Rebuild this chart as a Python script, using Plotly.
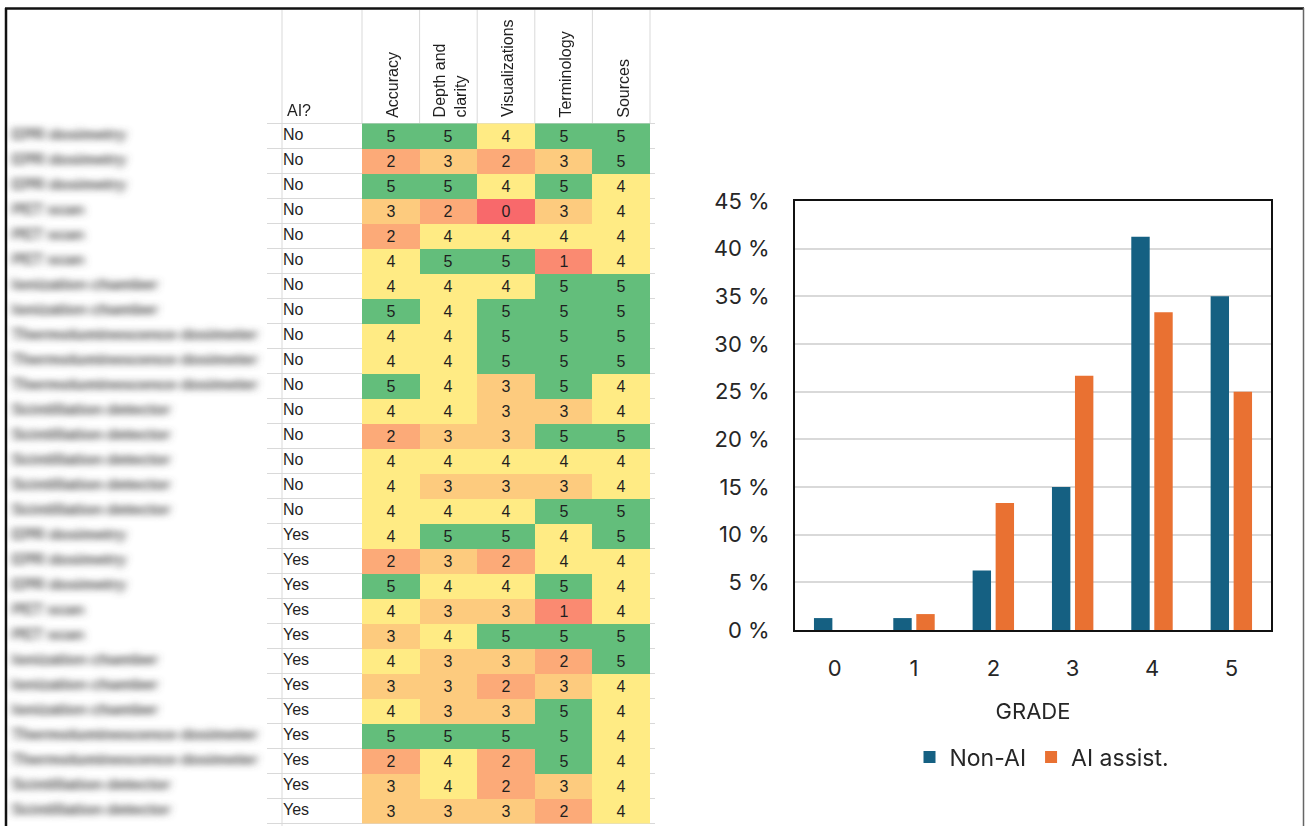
import plotly.graph_objects as go

# ---------------- grading table ----------------
topics = (
    ["EPR dosimetry"] * 3
    + ["PET scan"] * 3
    + ["Ionization chamber"] * 2
    + ["Thermoluminescence dosimeter"] * 3
    + ["Scintillation detector"] * 5
    + ["EPR dosimetry"] * 3
    + ["PET scan"] * 2
    + ["Ionization chamber"] * 3
    + ["Thermoluminescence dosimeter"] * 2
    + ["Scintillation detector"] * 2
)
ai_used = ["No"] * 16 + ["Yes"] * 12

criteria = ["Accuracy", "Depth and<br>clarity", "Visualizations", "Terminology", "Sources"]

accuracy = [5, 2, 5, 3, 2, 4, 4, 5, 4, 4, 5, 4, 2, 4, 4, 4,
            4, 2, 5, 4, 3, 4, 3, 4, 5, 2, 3, 3]
depth = [5, 3, 5, 2, 4, 5, 4, 4, 4, 4, 4, 4, 3, 4, 3, 4,
         5, 3, 4, 3, 4, 3, 3, 3, 5, 4, 4, 3]
visualizations = [4, 2, 4, 0, 4, 5, 4, 5, 5, 5, 3, 3, 3, 4, 3, 4,
                  5, 2, 4, 3, 5, 3, 2, 3, 5, 2, 2, 3]
terminology = [5, 3, 5, 3, 4, 1, 5, 5, 5, 5, 5, 3, 5, 4, 3, 5,
               4, 4, 5, 1, 5, 2, 3, 5, 5, 5, 3, 2]
sources = [5, 5, 4, 4, 4, 4, 5, 5, 5, 5, 4, 4, 5, 4, 4, 5,
           5, 4, 4, 4, 5, 5, 4, 4, 4, 4, 4, 4]

# ---------------- grade distribution ----------------
grades = [0, 1, 2, 3, 4, 5]
non_ai_pct = [1.25, 1.25, 6.25, 15.0, 41.25, 35.0]
ai_pct = [0.0, 1.67, 13.33, 26.67, 33.33, 25.0]

# ---------------- page geometry (pixels) ----------------
W, H = 1305, 826
ROW_H = 25.0
TABLE_TOP = 123.5
HEADER_TOP = 10.0
LINE_LEFT = 267.0
AI_COL_X = 282.0
SCORE_X0 = 362.0
SCORE_W = 57.6
SCORE_RIGHT_STUB = 655.0

n_rows = len(ai_used)
rows = list(range(n_rows))
y_top = -0.5 - TABLE_TOP / ROW_H
y_bottom = y_top + H / ROW_H
y_header_top = y_top + HEADER_TOP / ROW_H

score_cols = [accuracy, depth, visualizations, terminology, sources]
z = [[col[r] for col in score_cols] for r in rows]
x_edges = [SCORE_X0 + i * SCORE_W for i in range(len(score_cols) + 1)]
col_centers = [(x_edges[i] + x_edges[i + 1]) / 2 for i in range(len(score_cols))]

TABLE_FONT = "Liberation Sans, Arial, sans-serif"
CHART_FONT = "Inter, Lato, sans-serif"
BLUE = "#156082"
ORANGE = "#E97132"

fig = go.Figure()

# Conditional-format style colour scale: red (0) -> yellow (4) -> green (5)
fig.add_trace(go.Heatmap(
    x=x_edges, y=rows, z=z,
    zmin=0, zmax=5,
    colorscale=[[0.0, "#F8696B"], [0.8, "#FFEB84"], [1.0, "#63BE7B"]],
    showscale=False,
    texttemplate="%{z}",
    textfont=dict(family=TABLE_FONT, size=16, color="#1f1f1f"),
    hoverinfo="skip",
    xaxis="x2", yaxis="y2",
))

# Topic labels (softened later in the page script)
fig.add_trace(go.Scatter(
    x=[12] * n_rows, y=rows, mode="text", text=topics,
    textposition="middle right",
    textfont=dict(family=TABLE_FONT, size=16, color="#555555", weight="bold"),
    hoverinfo="skip", showlegend=False,
    xaxis="x2", yaxis="y2",
))

# AI? column
fig.add_trace(go.Scatter(
    x=[AI_COL_X + 1] * n_rows, y=rows, mode="text", text=ai_used,
    textposition="middle right",
    textfont=dict(family=TABLE_FONT, size=16, color="#1f1f1f"),
    hoverinfo="skip", showlegend=False,
    xaxis="x2", yaxis="y2",
))

# Grade distribution bars
fig.add_trace(go.Bar(
    x=grades, y=non_ai_pct, name="Non-AI",
    marker=dict(color=BLUE, line=dict(width=0)),
    hoverinfo="skip",
))
fig.add_trace(go.Bar(
    x=grades, y=ai_pct, name="AI assist.",
    marker=dict(color=ORANGE, line=dict(width=0)),
    hoverinfo="skip",
))

shapes = []
grid = dict(color="#D9D9D9", width=1)
# row separators
for r in range(n_rows + 1):
    shapes.append(dict(type="line", xref="x2", yref="y2",
                       x0=LINE_LEFT, x1=SCORE_RIGHT_STUB, y0=r - 0.5, y1=r - 0.5,
                       line=grid, layer="below"))
# left edge of the AI? column, full height
shapes.append(dict(type="line", xref="x2", yref="y2",
                   x0=AI_COL_X, x1=AI_COL_X, y0=y_header_top, y1=y_bottom,
                   line=grid, layer="below"))
# header column separators
for xe in x_edges:
    shapes.append(dict(type="line", xref="x2", yref="y2",
                       x0=xe, x1=xe, y0=y_header_top, y1=-0.5,
                       line=grid, layer="below"))

# outer frame
frame = dict(color="#111111", width=2.5)
shapes.append(dict(type="line", xref="paper", yref="paper",
                   x0=5 / W, x1=1304 / W, y0=1 - 8.5 / H, y1=1 - 8.5 / H,
                   line=frame, layer="above"))
shapes.append(dict(type="line", xref="paper", yref="paper",
                   x0=6 / W, x1=6 / W, y0=0, y1=1 - 8 / H,
                   line=frame, layer="above"))
shapes.append(dict(type="line", xref="paper", yref="paper",
                   x0=1303.5 / W, x1=1303.5 / W, y0=0, y1=1 - 8 / H,
                   line=dict(color="#666666", width=1.5), layer="above"))

annotations = [dict(
    text="AI?", x=AI_COL_X + 3, y=-0.5, xref="x2", yref="y2",
    xanchor="left", yanchor="bottom", yshift=3, showarrow=False,
    font=dict(family=TABLE_FONT, size=16, color="#1f1f1f"),
)]
for cx, name in zip(col_centers, criteria):
    annotations.append(dict(
        text=name, x=cx + 1.5, y=-0.5, xref="x2", yref="y2",
        xanchor="center", yanchor="bottom", yshift=4, textangle=-90,
        align="left", showarrow=False,
        font=dict(family=TABLE_FONT, size=16, color="#1f1f1f"),
    ))

fig.update_layout(
    width=W, height=H,
    margin=dict(l=0, r=0, t=0, b=0, pad=0, autoexpand=False),
    paper_bgcolor="white", plot_bgcolor="rgba(0,0,0,0)",
    font=dict(family=CHART_FONT, color="#262626"),
    barmode="group", bargap=0.42, bargroupgap=0.2,
    showlegend=True,
    legend=dict(
        orientation="h", x=1042 / W, xanchor="center",
        y=1 - 757 / H, yanchor="middle",
        font=dict(family=CHART_FONT, size=23, color="#262626"),
        bgcolor="rgba(0,0,0,0)", traceorder="normal",
    ),
    xaxis=dict(
        domain=[795 / W, 1271 / W],
        range=[-0.5, 5.5],
        tickvals=grades, ticktext=[str(g) for g in grades],
        ticks="", ticklabelstandoff=18,
        tickfont=dict(size=22, color="#262626"),
        showline=True, linecolor="#111111", linewidth=2, mirror=True,
        showgrid=False, zeroline=False, fixedrange=True, automargin=False,
        title=dict(text="GRADE", font=dict(size=22, color="#262626"), standoff=23),
        anchor="y",
    ),
    yaxis=dict(
        domain=[1 - 630 / H, 1 - 201 / H],
        range=[0, 45], dtick=5, tick0=0,
        ticksuffix=" %", ticks="", ticklabelstandoff=19,
        tickfont=dict(size=22, color="#262626"),
        showline=True, linecolor="#111111", linewidth=2, mirror=True,
        showgrid=True, gridcolor="#D9D9D9", gridwidth=1.5,
        zeroline=False, fixedrange=True, automargin=False,
        anchor="x",
    ),
    xaxis2=dict(domain=[0, 1], range=[0, W], visible=False, fixedrange=True,
                automargin=False, anchor="y2"),
    yaxis2=dict(domain=[0, 1], range=[y_bottom, y_top], visible=False, fixedrange=True,
                automargin=False, anchor="x2"),
    shapes=shapes,
    annotations=annotations,
)

soften_labels = """
var gd = document.getElementById('{plot_id}');
var svg = gd.querySelector('svg.main-svg');
var ns = 'http://www.w3.org/2000/svg';
var defs = svg.querySelector('defs');
if (!defs) { defs = document.createElementNS(ns, 'defs'); svg.insertBefore(defs, svg.firstChild); }
var f = document.createElementNS(ns, 'filter');
f.setAttribute('id', 'soft-label');
f.setAttribute('filterUnits', 'userSpaceOnUse');
f.setAttribute('x', '0'); f.setAttribute('y', '0');
f.setAttribute('width', '300'); f.setAttribute('height', '826');
var b = document.createElementNS(ns, 'feGaussianBlur');
b.setAttribute('stdDeviation', '4 3');
f.appendChild(b);
defs.appendChild(f);
var tr = gd.querySelector('.subplot.x2y2 .scatterlayer .trace');
if (tr) { tr.setAttribute('filter', 'url(#soft-label)'); }
"""

fig.write_html("out.html", post_script=soften_labels, config={"displayModeBar": False})
